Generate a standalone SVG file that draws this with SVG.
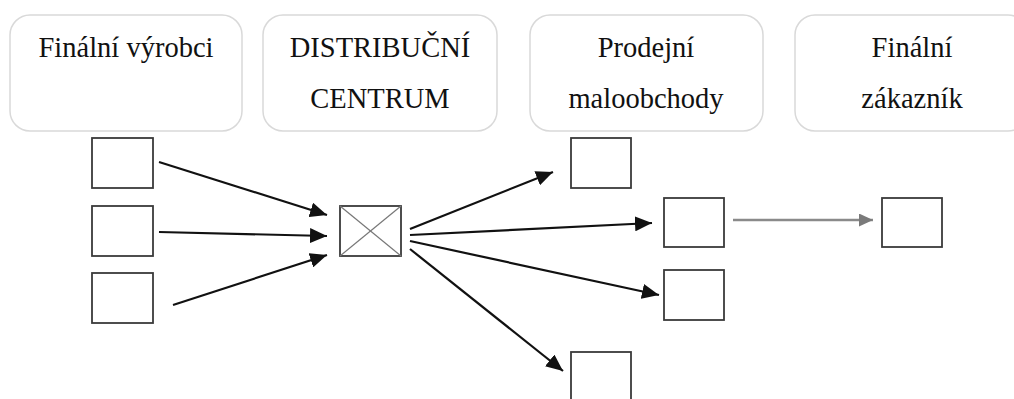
<svg xmlns="http://www.w3.org/2000/svg" width="1014" height="399" viewBox="0 0 1014 399">
<style>
.hdr{fill:#fff;stroke:#d9d9d9;stroke-width:1.5}
.lbl{font-family:"Liberation Serif","Times New Roman",serif;font-size:28.5px;fill:#111;text-anchor:middle}
.sq{fill:#fff;stroke:#3a3a3a;stroke-width:1.8}
.ar{stroke:#111;stroke-width:2.2;fill:none;marker-end:url(#ah)}
.ag{stroke:#8a8a8a;stroke-width:2.4;fill:none;marker-end:url(#ahg)}
.x{stroke:#777;stroke-width:1.2}
</style>
<defs>
<marker id="ah" markerUnits="userSpaceOnUse" markerWidth="17" markerHeight="15" refX="17" refY="7.5" orient="auto"><path d="M0,0 L17,7.5 L0,15 Z" fill="#111"/></marker>
<marker id="ahg" markerUnits="userSpaceOnUse" markerWidth="14" markerHeight="13" refX="14" refY="6.5" orient="auto"><path d="M0,0 L14,6.5 L0,13 Z" fill="#7a7a7a"/></marker>
</defs>
<rect width="1014" height="399" fill="#fff"/>
<g id="h1"><rect class="hdr" x="10" y="15" width="232" height="116" rx="20"/><text class="lbl" x="126" y="57">Finální výrobci</text></g>
<g id="h2"><rect class="hdr" x="263" y="15" width="234" height="116" rx="20"/><text class="lbl" x="380" y="57">DISTRIBUČNÍ</text><text class="lbl" x="380" y="108">CENTRUM</text></g>
<g id="h3"><rect class="hdr" x="530" y="15" width="233" height="116" rx="20"/><text class="lbl" x="646" y="57">Prodejní</text><text class="lbl" x="646" y="108">maloobchody</text></g>
<g id="h4"><rect class="hdr" x="795" y="15" width="233" height="116" rx="20"/><text class="lbl" x="912" y="57">Finální</text><text class="lbl" x="912" y="108">zákazník</text></g>
<g id="p1"><rect class="sq" x="92" y="138" width="61" height="50"/></g>
<g id="p2"><rect class="sq" x="92" y="206" width="61" height="50"/></g>
<g id="p3"><rect class="sq" x="92" y="273" width="61" height="50"/></g>
<g id="dc"><rect class="sq" x="340" y="206" width="61" height="50"/><line class="x" x1="340" y1="206" x2="401" y2="256"/><line class="x" x1="401" y1="206" x2="340" y2="256"/></g>
<g id="r1"><rect class="sq" x="571" y="138" width="60" height="50"/></g>
<g id="r2"><rect class="sq" x="664" y="198" width="60" height="49"/></g>
<g id="r3"><rect class="sq" x="664" y="270" width="60" height="50"/></g>
<g id="r4"><rect class="sq" x="571" y="352" width="60" height="60"/></g>
<g id="c1"><rect class="sq" x="882" y="198" width="60" height="49"/></g>
<g id="connectors">
<line class="ar" x1="159" y1="162" x2="327" y2="215"/>
<line class="ar" x1="159" y1="232" x2="327" y2="236"/>
<line class="ar" x1="173" y1="305" x2="327" y2="255"/>
<line class="ar" x1="410" y1="229" x2="553" y2="172"/>
<line class="ar" x1="410" y1="235" x2="652" y2="223"/>
<line class="ar" x1="410" y1="241" x2="659" y2="295"/>
<line class="ar" x1="410" y1="249" x2="563" y2="371"/>
<line class="ag" x1="733" y1="220" x2="873" y2="220"/>
</g>
</svg>
